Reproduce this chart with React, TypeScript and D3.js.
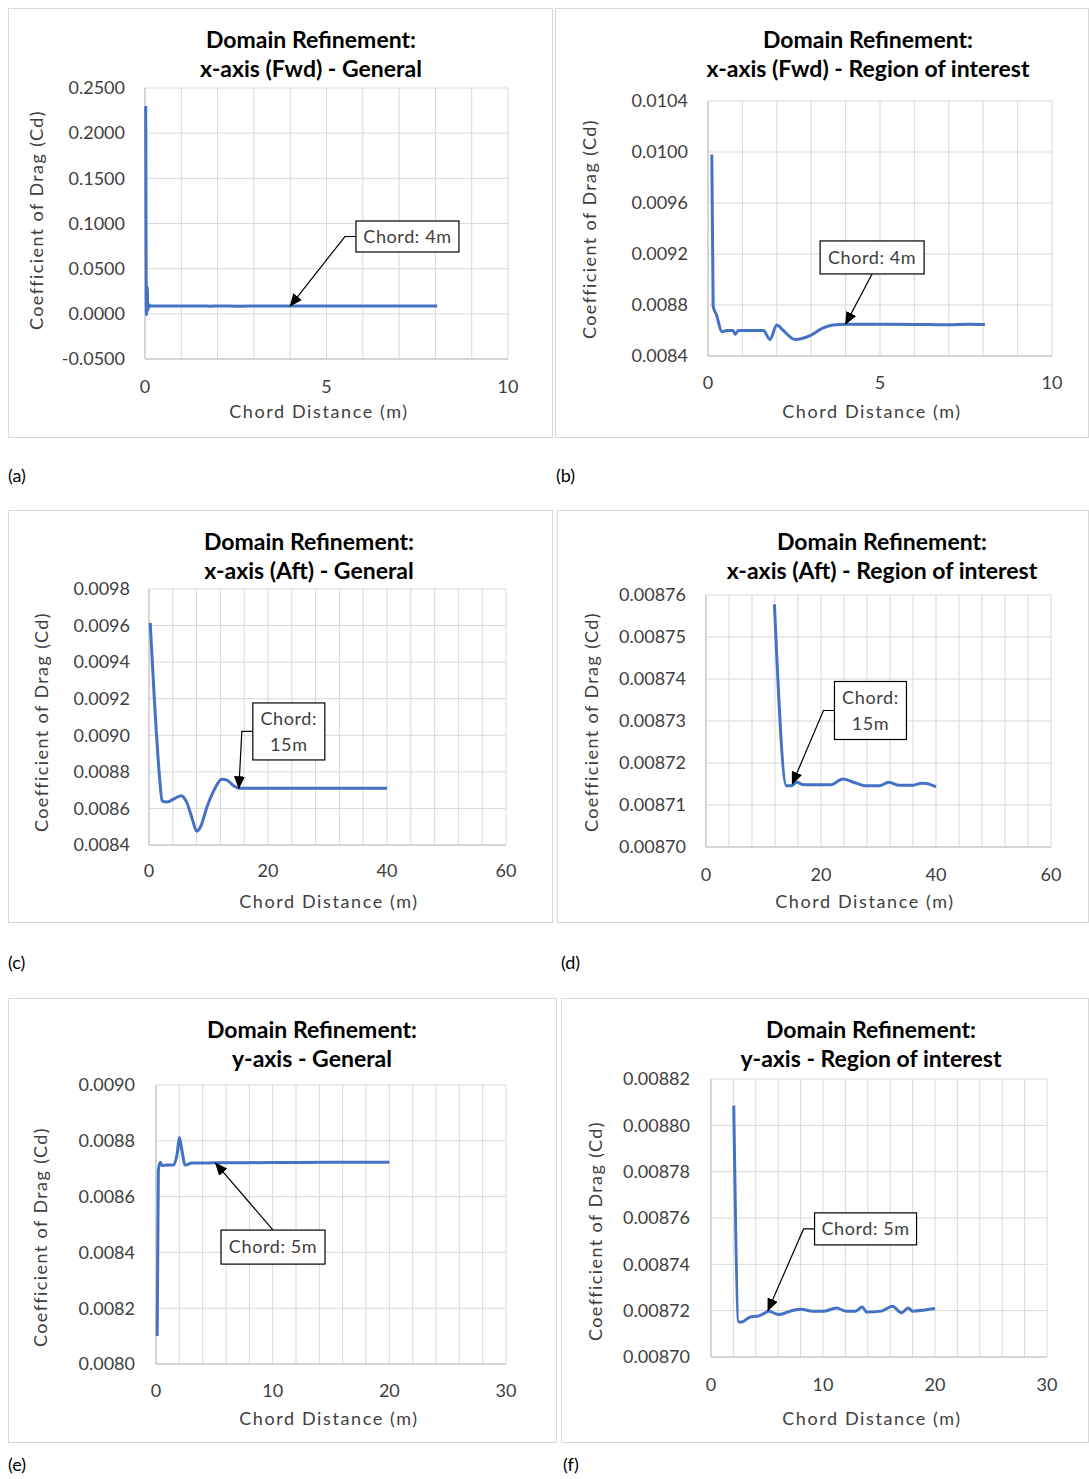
import React from "react";
import * as d3 from "d3";

// (a) x-axis Fwd general: start-up spike, then same run as (b)
const fwdSpikeX = [0.02, 0.04, 0.06, 0.08];
const fwdSpikeCd = [0.23, -0.001, 0.03, 0.004];

// (b) x-axis Fwd region of interest
const fwdRoiX = [0.11, 0.15, 0.25, 0.4, 0.55, 0.73, 0.79, 0.88, 1.2, 1.61, 1.8, 2.0, 2.19, 2.53, 2.97, 3.35, 3.64, 4.0, 5.0, 6.0, 7.0, 7.6, 8.05];
const fwdRoiCd = [0.00998, 0.00879, 0.00872, 0.00859, 0.0086, 0.0086, 0.00857, 0.0086, 0.0086, 0.0086, 0.00853, 0.008643, 0.0086, 0.00853, 0.00856, 0.00862, 0.008643, 0.00865, 0.00865, 0.008648, 0.008645, 0.00865, 0.008648];

// (c) x-axis Aft general
const aftGeneralX = [0.2, 0.9, 1.8, 2.2, 3.0, 4.5, 5.4, 6.25, 7.3, 8.0, 8.6, 9.8, 11.0, 12.2, 13.1, 14.3, 15.2, 20, 25, 30, 35, 40];
const aftGeneralCd = [0.009615, 0.009196, 0.00876, 0.00864, 0.008635, 0.008658, 0.00867, 0.00864, 0.00854, 0.008476, 0.008495, 0.008613, 0.008704, 0.00876, 0.008755, 0.008722, 0.00871, 0.00871, 0.00871, 0.00871, 0.00871, 0.00871];

// (d) x-axis Aft region of interest
const aftRoiX = [11.9, 14.0, 14.9, 15.8, 17.0, 19.9, 21.7, 23.8, 25.3, 27.7, 30.1, 31.8, 33.6, 36.0, 37.5, 38.4, 40];
const aftRoiCd = [0.0087578, 0.0087146, 0.0087146, 0.0087154, 0.0087148, 0.0087148, 0.0087148, 0.0087162, 0.0087156, 0.0087146, 0.0087146, 0.0087154, 0.0087147, 0.0087147, 0.0087152, 0.0087151, 0.0087143];

// (e) y-axis general
const yGeneralX = [0.1, 0.2, 0.37, 0.55, 0.9, 1.5, 1.83, 2.0, 2.2, 2.5, 3.06, 5, 10, 15, 20];
const yGeneralCd = [0.0081, 0.008693, 0.008723, 0.008711, 0.008713, 0.008713, 0.008758, 0.008812, 0.00877, 0.008713, 0.00872, 0.008721, 0.008722, 0.008723, 0.008723];

// (f) y-axis region of interest
const yRoiX = [2.03, 2.48, 2.73, 3.5, 4.24, 4.7, 5.15, 6.06, 7.27, 8.03, 9.1, 10.0, 11.2, 12.1, 12.9, 13.5, 13.9, 15.2, 16.2, 17.0, 17.6, 18.0, 19.1, 20];
const yRoiCd = [0.0088085, 0.0087151, 0.0087151, 0.0087173, 0.0087177, 0.0087187, 0.0087197, 0.0087183, 0.0087201, 0.0087206, 0.0087197, 0.0087197, 0.0087211, 0.0087197, 0.0087198, 0.0087216, 0.0087194, 0.0087198, 0.0087219, 0.0087191, 0.0087211, 0.0087198, 0.0087203, 0.0087209];

// tick values
const fwdGeneralTicks = [-0.05, 0, 0.05, 0.1, 0.15, 0.2, 0.25];
const fwdRoiTicks = [0.0084, 0.0088, 0.0092, 0.0096, 0.01, 0.0104];
const aftGeneralTicks = [0.0084, 0.0086, 0.0088, 0.009, 0.0092, 0.0094, 0.0096, 0.0098];
const aftRoiTicks = [0.0087, 0.00871, 0.00872, 0.00873, 0.00874, 0.00875, 0.00876];
const yGeneralTicks = [0.008, 0.0082, 0.0084, 0.0086, 0.0088, 0.009];
const yRoiTicks = [0.0087, 0.00872, 0.00874, 0.00876, 0.00878, 0.0088, 0.00882];
const tenTicks = [0, 5, 10];
const sixtyTicks = [0, 20, 40, 60];
const thirtyTicks = [0, 10, 20, 30];

const titles = [
  "x-axis (Fwd) - General",
  "x-axis (Fwd) - Region of interest",
  "x-axis (Aft) - General",
  "x-axis (Aft) - Region of interest",
  "y-axis -  General",
  "y-axis - Region of interest",
];

const BLUE = "#4472C4";
const GRID = "#d9d9d9";
const TXT = "#404040";
const FONT = "Lato, 'Open Sans', sans-serif";

const panels = [
  {
    tag: "(a)", tagPos: [8, 476], frame: [8, 8, 553, 438], plot: [145, 88, 508, 359],
    xs: fwdSpikeX.concat(fwdRoiX), ys: fwdSpikeCd.concat(fwdRoiCd),
    xTicks: tenTicks, xMinor: 1, yTicks: fwdGeneralTicks, dec: 4,
    title: titles[0], titleX: 311, yLabX: 125, xLabY: 387, xTitleX: 319, xTitleY: 412, yTitleX: 37, yTitleY: 220,
    note: { lines: ["Chord: 4m"], box: [7.23, 0.0856], w: 103, h: 31, tip: [4.0, 0.0086], from: "left" },
  },
  {
    tag: "(b)", tagPos: [556, 476], frame: [555, 8, 1089, 438], plot: [708, 101, 1052, 356],
    xs: fwdRoiX, ys: fwdRoiCd,
    xTicks: tenTicks, xMinor: 1, yTicks: fwdRoiTicks, dec: 4,
    title: titles[1], titleX: 868, yLabX: 688, xLabY: 383, xTitleX: 872, xTitleY: 412, yTitleX: 590, yTitleY: 229,
    note: { lines: ["Chord: 4m"], box: [4.77, 0.009173], w: 104, h: 33, tip: [4.0, 0.00865], from: "bottom" },
  },
  {
    tag: "(c)", tagPos: [8, 963], frame: [8, 510, 553, 923], plot: [149, 589, 506, 845],
    xs: aftGeneralX, ys: aftGeneralCd,
    xTicks: sixtyTicks, xMinor: 4, yTicks: aftGeneralTicks, dec: 4,
    title: titles[2], titleX: 309, yLabX: 130, xLabY: 871, xTitleX: 329, xTitleY: 902, yTitleX: 42, yTitleY: 722,
    note: { lines: ["Chord:", "15m"], box: [23.5, 0.009021], w: 72, h: 57, tip: [15.1, 0.00871], from: "left" },
  },
  {
    tag: "(d)", tagPos: [561, 963], frame: [557, 510, 1089, 923], plot: [706, 595, 1051, 847],
    xs: aftRoiX, ys: aftRoiCd,
    xTicks: sixtyTicks, xMinor: 4, yTicks: aftRoiTicks, dec: 5,
    title: titles[3], titleX: 882, yLabX: 686, xLabY: 875, xTitleX: 865, xTitleY: 902, yTitleX: 592, yTitleY: 722,
    note: { lines: ["Chord:", "15m"], box: [28.6, 0.0087325], w: 72, h: 58, tip: [15.0, 0.008715], from: "left" },
  },
  {
    tag: "(e)", tagPos: [8, 1465], frame: [8, 998, 557, 1443], plot: [156, 1085, 506, 1364],
    xs: yGeneralX, ys: yGeneralCd,
    xTicks: thirtyTicks, xMinor: 2, yTicks: yGeneralTicks, dec: 4,
    title: titles[4], titleX: 312, yLabX: 135, xLabY: 1391, xTitleX: 329, xTitleY: 1419, yTitleX: 41, yTitleY: 1237,
    note: { lines: ["Chord: 5m"], box: [10.03, 0.008419], w: 104, h: 34, tip: [5.1, 0.00872], from: "top" },
  },
  {
    tag: "(f)", tagPos: [563, 1465], frame: [561, 998, 1089, 1443], plot: [711, 1079, 1047, 1357],
    xs: yRoiX, ys: yRoiCd,
    xTicks: thirtyTicks, xMinor: 2, yTicks: yRoiTicks, dec: 5,
    title: titles[5], titleX: 871, yLabX: 690, xLabY: 1385, xTitleX: 872, xTitleY: 1419, yTitleX: 596, yTitleY: 1231,
    note: { lines: ["Chord: 5m"], box: [13.8, 0.0087553], w: 102, h: 32, tip: [5.08, 0.00872], from: "left" },
  },
];

function Panel({ p }: { p: any }) {
  const [px0, py0, px1, py1] = p.plot;
  const xDom = [p.xTicks[0], p.xTicks[p.xTicks.length - 1]];
  const yDom = [p.yTicks[0], p.yTicks[p.yTicks.length - 1]];
  const x = d3.scaleLinear().domain(xDom).range([px0, px1]);
  const y = d3.scaleLinear().domain(yDom).range([py1, py0]);
  const minor = d3.range(xDom[0], xDom[1] + 1e-9, p.xMinor);
  const pts: [number, number][] = p.xs.map((v: number, i: number) => [v, p.ys[i]]);
  const line = d3
    .line<[number, number]>()
    .x((d) => x(d[0]))
    .y((d) => y(d[1]))
    .curve(d3.curveMonotoneX);

  // annotation callout
  const n = p.note;
  const bx = x(n.box[0]);
  const by = y(n.box[1]);
  const left = bx - n.w / 2;
  const top = by - n.h / 2;
  const tx = x(n.tip[0]);
  const ty = y(n.tip[1]);
  let conn = "";
  if (n.from === "left") conn = `M${left},${by}L${left - 11},${by}L${tx},${ty}`;
  else if (n.from === "bottom") conn = `M${bx},${top + n.h}L${tx},${ty}`;
  else conn = `M${bx},${top}L${tx},${ty}`;

  const [fx0, fy0, fx1, fy1] = p.frame;
  return (
    <g>
      <rect x={fx0 + 0.5} y={fy0 + 0.5} width={fx1 - fx0 - 1} height={fy1 - fy0 - 1} fill="#fff" stroke={GRID} />
      {minor.map((v: number) => (
        <line key={"v" + v} x1={x(v)} x2={x(v)} y1={py0} y2={py1} stroke={GRID} />
      ))}
      {p.yTicks.map((v: number) => (
        <line key={"h" + v} x1={px0} x2={px1} y1={y(v)} y2={y(v)} stroke={GRID} />
      ))}
      <line x1={px0} x2={px1} y1={py1} y2={py1} stroke="#bfbfbf" />
      <line x1={px0} x2={px0} y1={py0} y2={py1} stroke="#bfbfbf" />
      <path d={line(pts) || ""} fill="none" stroke={BLUE} strokeWidth={3} strokeLinejoin="round" />
      {p.yTicks.map((v: number) => (
        <text key={"yl" + v} x={p.yLabX} y={y(v)} dy="0.35em" textAnchor="end" fontSize={18} fill={TXT}>
          {v.toFixed(p.dec)}
        </text>
      ))}
      {p.xTicks.map((v: number) => (
        <text key={"xl" + v} x={x(v)} y={p.xLabY} dy="0.35em" textAnchor="middle" fontSize={18} fill={TXT}>
          {v}
        </text>
      ))}
      <text x={p.titleX} y={fy0 + 32} dy="0.35em" textAnchor="middle" fontSize={23} fontWeight="bold" fill="#000">
        Domain Refinement:
      </text>
      <text x={p.titleX} y={fy0 + 61} dy="0.35em" textAnchor="middle" fontSize={23} fontWeight="bold" fill="#000">
        {p.title}
      </text>
      <text x={p.xTitleX} y={p.xTitleY} dy="0.35em" textAnchor="middle" fontSize={18} fill={TXT} letterSpacing={1.6}>
        Chord Distance (m)
      </text>
      <text
        transform={`translate(${p.yTitleX},${p.yTitleY}) rotate(-90)`}
        dy="0.35em"
        textAnchor="middle"
        fontSize={18}
        fill={TXT}
        letterSpacing={1.4}
      >
        Coefficient of Drag (Cd)
      </text>
      <path d={conn} fill="none" stroke="#000" strokeWidth={1.2} markerEnd="url(#arrowHead)" />
      <rect x={left} y={top} width={n.w} height={n.h} fill="#fff" stroke="#000" strokeWidth={1.2} />
      {n.lines.map((t: string, i: number) => (
        <text
          key={t}
          x={bx}
          y={by + (i - (n.lines.length - 1) / 2) * 26}
          dy="0.35em"
          textAnchor="middle"
          fontSize={18}
          fill={TXT}
          letterSpacing={0.6}
        >
          {t}
        </text>
      ))}
      <text x={p.tagPos[0]} y={p.tagPos[1]} dy="0.35em" fontSize={18} fill="#000">
        {p.tag}
      </text>
    </g>
  );
}

export default function App() {
  return (
    <svg
      width={1089}
      height={1479}
      style={{ position: "absolute", left: 0, top: 0, background: "#fff" }}
      fontFamily={FONT}
    >
      <defs>
        <marker id="arrowHead" viewBox="0 0 13 11" refX={12} refY={5.5} markerWidth={13} markerHeight={11} markerUnits="userSpaceOnUse" orient="auto">
          <path d="M0,0L13,5.5L0,11z" fill="#000" />
        </marker>
      </defs>
      <rect width={1089} height={1479} fill="#fff" />
      {panels.map((p) => (
        <Panel key={p.tag} p={p} />
      ))}
    </svg>
  );
}
